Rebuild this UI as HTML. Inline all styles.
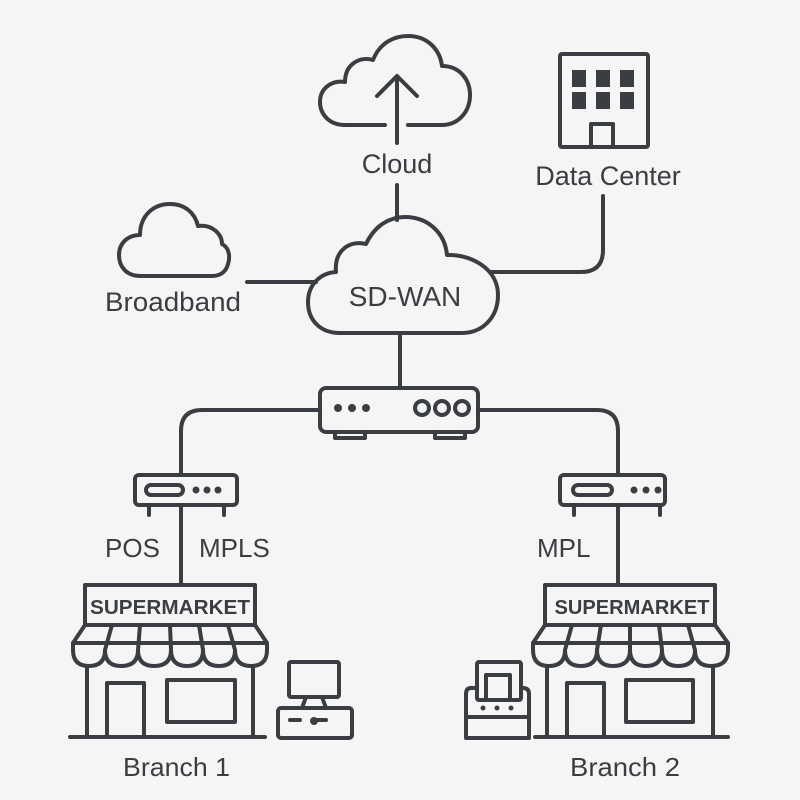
<!DOCTYPE html>
<html><head><meta charset="utf-8"><style>
html,body{margin:0;padding:0;background:#f5f5f5;}
svg{display:block;}
text{font-family:"Liberation Sans",sans-serif;fill:#3a3d41;}
</style></head><body>
<svg width="800" height="800" viewBox="0 0 800 800" xmlns="http://www.w3.org/2000/svg">
<rect width="800" height="800" fill="#f5f5f5"/>
<g fill="none" stroke="#3a3d41" stroke-width="4" stroke-linecap="round" stroke-linejoin="round">
<path d="M385 125 H345 C328 125 320 113 320 102 C320 88 332 80 345 82 C345 64 360 56 373 60 C380 42 395 36 408 36 C428 36 440 50 442 66 C460 66 470 80 470 95 C470 112 458 125 442 125 H408"/>
<path d="M397 143 V76 M377 96 L397 76 L417 96"/>
<line x1="397" y1="185" x2="397" y2="220"/>
<path d="M340 333 C320 333 308 320 308 302 C308 285 320 273 336 272 C334 250 350 240 366 244 C375 225 390 217 405 217 C428 217 445 233 447 255 C470 254 498 268 498 295 C498 318 482 333 462 333 Z"/>
<rect x="560" y="54" width="88" height="93" rx="2"/>
<rect x="591" y="124" width="22" height="23"/>
<path d="M603 196 V250 Q603 272 581 272 H492"/>
<path d="M140 276 C126 276 119 266 119 255 C119 243 128 235 140 235 C140 216 153 204 170 204 C185 204 195 213 198 226 C212 224 222 234 222 244 C230 248 230 258 228 264 C226 272 220 276 212 276 Z"/>
<line x1="247" y1="282" x2="316" y2="282"/>
<line x1="400" y1="333" x2="400" y2="388"/>
<rect x="320" y="388" width="158" height="44" rx="6"/>
<path d="M335 432 V438 H365 V432 M435 432 V438 H465 V432"/>
<circle cx="422" cy="408" r="7"/><circle cx="442" cy="408" r="7"/><circle cx="462" cy="408" r="7"/>
<path d="M320 410 H202 Q181 410 181 431 V475"/>
<path d="M478 410 H597 Q618 410 618 431 V475"/>
<rect x="135" y="475" width="102" height="30" rx="4"/>
<rect x="146" y="485" width="37" height="10" rx="5"/>
<path d="M149 505 V515 M224 505 V515"/>
<line x1="181" y1="505" x2="181" y2="585"/>
<rect x="560" y="475" width="105" height="30" rx="4"/>
<rect x="573" y="485" width="39" height="10" rx="5"/>
<path d="M574 505 V515 M660 505 V515"/>
<line x1="618" y1="505" x2="618" y2="585"/>
<rect x="85" y="585" width="170" height="40"/>
<path d="M85 625 H255 L267 643 H73 Z"/>
<path d="M73 643 V650 Q73 666 89 666 Q105 666 105 650 Q105 666 121 666 Q138 666 138 650 Q138 666 154 666 Q171 666 171 650 Q171 666 187 666 Q203 666 203 650 Q203 666 219 666 Q235 666 235 650 Q235 666 251 666 Q267 666 267 650 V643"/>
<path d="M112 625 L105 650 M140 625 L138 650 M170 625 L171 650 M199 625 L203 650 M228 625 L235 650"/>
<path d="M87 666 V737 M253 666 V737 M70 737 H265"/>
<rect x="107" y="683" width="37" height="54"/>
<rect x="167" y="680" width="68" height="42"/>
<rect x="289" y="662" width="50" height="35" rx="2"/>
<path d="M306 697 L302 708 M322 697 L326 708"/>
<rect x="278" y="708" width="74" height="30" rx="3"/>
<path d="M290 720 H300 M316 720 H326"/>
<rect x="545" y="585" width="170" height="40"/>
<path d="M545 625 H715 L728 643 H533 Z"/>
<path d="M533 643 V650 Q533 666 549 666 Q565 666 565 650 Q565 666 581 666 Q597 666 597 650 Q597 666 613 666 Q630 666 630 650 Q630 666 646 666 Q662 666 662 650 Q662 666 678 666 Q695 666 695 650 Q695 666 711 666 Q728 666 728 650 V643"/>
<path d="M572 625 L565 650 M601 625 L597 650 M630 625 L630 650 M659 625 L662 650 M688 625 L695 650"/>
<path d="M547 666 V737 M713 666 V737 M535 737 H728"/>
<rect x="567" y="683" width="37" height="54"/>
<rect x="626" y="680" width="67" height="42"/>
<rect x="477" y="662" width="44" height="38" rx="2"/>
<path d="M486 700 V675 H510 V700"/>
<path d="M477 688 H471 Q466 688 466 694 V738 H529 V694 Q529 688 523 688"/>
<path d="M466 717 H529"/>
</g>
<g fill="#3a3d41">
<rect x="572" y="70" width="14" height="17"/><rect x="596" y="70" width="14" height="17"/><rect x="620" y="70" width="14" height="17"/>
<rect x="572" y="92" width="14" height="17"/><rect x="596" y="92" width="14" height="17"/><rect x="620" y="92" width="14" height="17"/>
<circle cx="338" cy="408" r="4"/><circle cx="352" cy="408" r="4"/><circle cx="366" cy="408" r="4"/>
<circle cx="196" cy="490" r="3.5"/><circle cx="207" cy="490" r="3.5"/><circle cx="218" cy="490" r="3.5"/>
<circle cx="634" cy="490" r="3.5"/><circle cx="646" cy="490" r="3.5"/><circle cx="658" cy="490" r="3.5"/>
<circle cx="314" cy="721" r="4"/>
<circle cx="483" cy="708" r="2.5"/><circle cx="497" cy="708" r="2.5"/><circle cx="511" cy="708" r="2.5"/>
</g>
<text x="397" y="173" font-size="27" text-anchor="middle">Cloud</text>
<text x="608" y="185" font-size="27" text-anchor="middle">Data Center</text>
<text x="405" y="306" font-size="28" text-anchor="middle">SD-WAN</text>
<text x="105" y="311" font-size="27" textLength="136" lengthAdjust="spacingAndGlyphs">Broadband</text>
<text x="105" y="557" font-size="26">POS</text>
<text x="199" y="557" font-size="26">MPLS</text>
<text x="537" y="557" font-size="26">MPL</text>
<text x="170" y="614" font-size="20" font-weight="bold" text-anchor="middle" textLength="160" lengthAdjust="spacingAndGlyphs">SUPERMARKET</text>
<text x="632" y="614" font-size="20" font-weight="bold" text-anchor="middle" textLength="155" lengthAdjust="spacingAndGlyphs">SUPERMARKET</text>
<text x="123" y="776" font-size="26" textLength="107" lengthAdjust="spacingAndGlyphs">Branch 1</text>
<text x="570" y="776" font-size="26" textLength="110" lengthAdjust="spacingAndGlyphs">Branch 2</text>
</svg>
</body></html>
